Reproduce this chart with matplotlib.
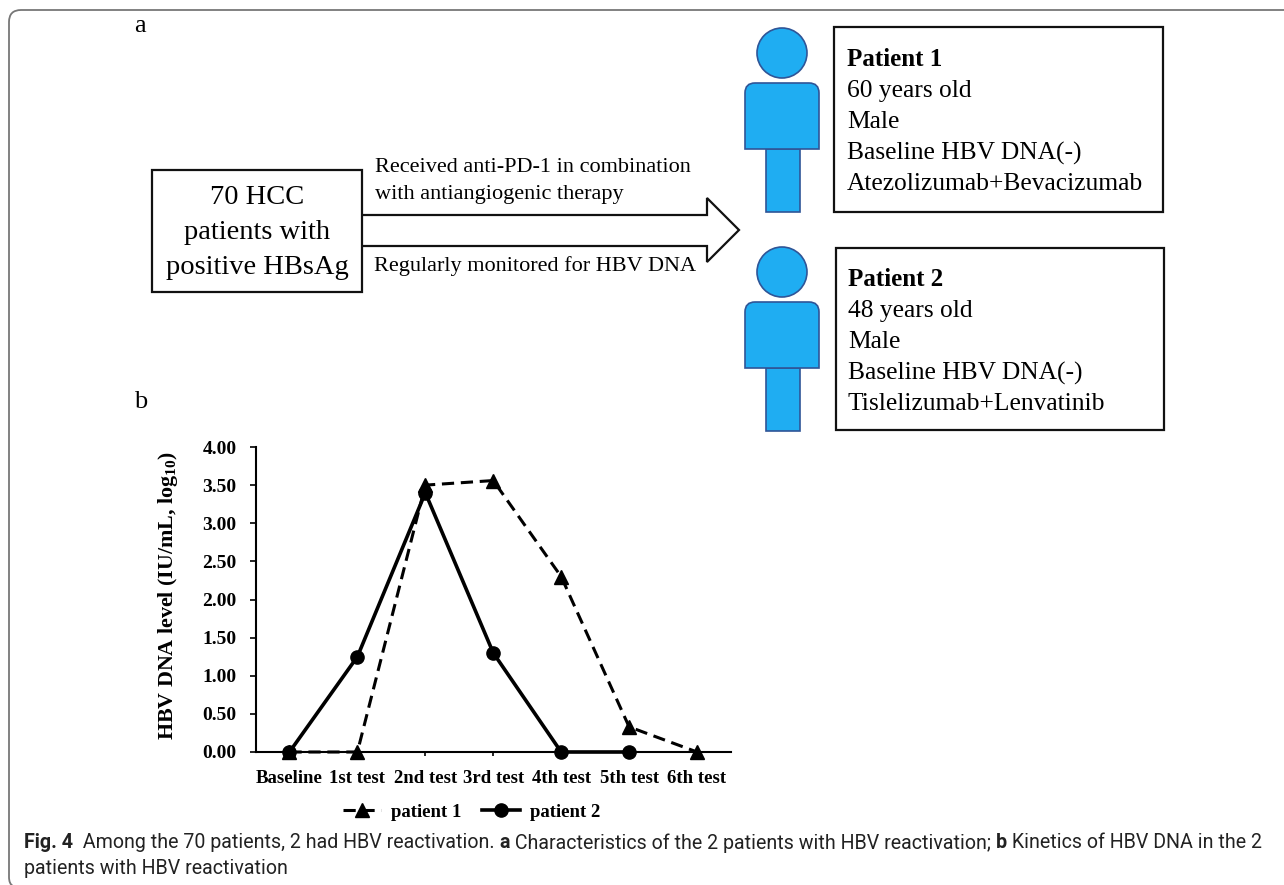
import matplotlib
matplotlib.use('Agg')
import matplotlib.pyplot as plt
from matplotlib.patches import Ellipse, PathPatch, Polygon, Rectangle
from matplotlib.path import Path

# Values
test_labels = ['Baseline', '1st test', '2nd test', '3rd test', '4th test', '5th test', '6th test']
patient_1 = [0.0, 0.0, 3.50, 3.56, 2.30, 0.33, 0.0]
patient_2 = [0.0, 1.25, 3.40, 1.30, 0.0, 0.0]
y_ticks = [0, 0.5, 1, 1.5, 2, 2.5, 3, 3.5, 4]

patient_1_lines = ['60 years old', 'Male', 'Baseline HBV DNA(-)', 'Atezolizumab+Bevacizumab']
patient_2_lines = ['48 years old', 'Male', 'Baseline HBV DNA(-)', 'Tislelizumab+Lenvatinib']
caption_1 = [('Fig. 4', True), ('  Among the 70 patients, 2 had HBV reactivation. ', False), ('a', True),
             (' Characteristics of the 2 patients with HBV reactivation; ', False), ('b', True),
             (' Kinetics of HBV DNA in the 2', False)]
caption_2 = 'patients with HBV reactivation'

W, H = 1284, 885
SERIF = 'Liberation Serif'
BLUE = '#1FADF2'
EDGE = '#2F5597'
INK = '#111111'

fig = plt.figure(figsize=(W / 100, H / 100), dpi=100)

# full-figure axes in pixel coordinates for the diagram part
bg = fig.add_axes([0, 0, 1, 1])
bg.set_xlim(0, W)
bg.set_ylim(H, 0)
bg.axis('off')

# card outline: open path, it leaves the image on the right and at the bottom
outline = Path([(13, 886), (9, 884), (9, 877), (9, 22), (9, 10), (21, 10), (1290, 10)],
               [Path.MOVETO, Path.CURVE3, Path.CURVE3, Path.LINETO, Path.CURVE3, Path.CURVE3, Path.LINETO])
bg.add_patch(PathPatch(outline, fc='none', ec='#777777', lw=1.3))


def person(dy, box):
    bg.add_patch(Ellipse((782, 53 + dy), 50, 50, fc=BLUE, ec=EDGE, lw=1.2))
    bg.add_patch(Rectangle((766, 149 + dy), 34, 63, fc=BLUE, ec=EDGE, lw=1.2))
    t, b = 83 + dy, 149 + dy
    body = Path([(745, b), (745, t + 10), (745, t), (755, t), (809, t), (819, t), (819, t + 10), (819, b), (745, b)],
                [Path.MOVETO, Path.LINETO, Path.CURVE3, Path.CURVE3, Path.LINETO, Path.CURVE3, Path.CURVE3,
                 Path.LINETO, Path.CLOSEPOLY])
    bg.add_patch(PathPatch(body, fc=BLUE, ec=EDGE, lw=1.2))
    bg.add_patch(Rectangle((box[0], box[1]), box[2] - box[0], box[3] - box[1], fc='white', ec=INK, lw=1.6))


person(0, (834, 27, 1163, 212))
person(219, (836, 248, 1164, 430))


def patient_text(x, y, title, lines):
    bg.text(x, y, title, family=SERIF, fontsize=18, weight='bold', va='center')
    for i, line in enumerate(lines):
        bg.text(x, y + 31 * (i + 1), line, family=SERIF, fontsize=18.4, va='center')


patient_text(847, 60, 'Patient 1', patient_1_lines)
patient_text(848, 280, 'Patient 2', patient_2_lines)

bg.add_patch(Polygon([(362, 215), (707, 215), (707, 198), (739, 230), (707, 262), (707, 246), (362, 246)],
                     closed=False, fc='white', ec=INK, lw=1.6))
bg.add_patch(Rectangle((152, 170), 210, 122, fc='white', ec=INK, lw=1.6))
for i, line in enumerate(['70 HCC', 'patients with', 'positive HBsAg']):
    bg.text(257, 198 + 34.5 * i, line, family=SERIF, fontsize=20.5, ha='center', va='center')

bg.text(375, 168, 'Received anti-PD-1 in combination', family=SERIF, fontsize=16, va='center')
bg.text(375, 195, 'with antiangiogenic therapy', family=SERIF, fontsize=16, va='center')
bg.text(374, 266, 'Regularly monitored for HBV DNA', family=SERIF, fontsize=16, va='center')

bg.text(134, 26, 'a', family=SERIF, fontsize=19, va='center')
bg.text(134, 402, 'b', family=SERIF, fontsize=19, va='center')

# panel b
left, right, top, bottom = 255.5, 731, 447, 752
ax = fig.add_axes([left / W, 1 - bottom / H, (right - left) / W, (bottom - top) / H])
ax.patch.set_alpha(0)
ax.plot(range(len(patient_1)), patient_1, color='black', lw=2.2, ls=(0, (4, 2.2)), marker='^', ms=9.5,
        label='patient 1', clip_on=False)
ax.plot(range(len(patient_2)), patient_2, color='black', lw=2.6, marker='o', ms=9.5,
        label='patient 2', clip_on=False)
ax.set_xlim(-0.5, 6.5)
ax.set_ylim(0, 4)
ax.set_xticks(range(len(test_labels)))
ax.set_xticklabels(test_labels, family=SERIF, fontsize=13.5, weight='bold')
ax.set_yticks(y_ticks)
ax.set_yticklabels(['%.2f' % t for t in y_ticks], family=SERIF, fontsize=14, weight='bold')
ax.tick_params(axis='x', length=3, width=1.2, pad=10)
ax.tick_params(axis='y', length=4, width=1.2, pad=9.5)
ax.set_ylabel('HBV DNA level (IU/mL, log$\\mathregular{_{10}}$)', family=SERIF, fontsize=15.8, weight='bold',
              labelpad=16, y=0.513)
for side in ['top', 'right']:
    ax.spines[side].set_visible(False)
for side in ['left', 'bottom']:
    ax.spines[side].set_linewidth(1.5)
ax.legend(ncol=2, loc='center', bbox_to_anchor=(0.455, -0.197), frameon=False, columnspacing=1.1,
          handlelength=2.0, handletextpad=0.55,
          prop={'family': SERIF, 'size': 13.5, 'weight': 'bold'})

# caption, run by run so the bold parts sit in the line
renderer = fig.canvas.get_renderer()
x = 24
for part, bold in caption_1:
    t = bg.text(x, 843, part.replace(' ', '\u00a0'), family='Roboto', fontsize=14.15, color='#222222',
                weight='bold' if bold else 'normal', va='center')
    x = bg.transData.inverted().transform(t.get_window_extent(renderer))[1, 0]
bg.text(24, 868, caption_2, family='Roboto', fontsize=14.15, color='#222222', va='center')

fig.savefig('out.png', dpi=100)
